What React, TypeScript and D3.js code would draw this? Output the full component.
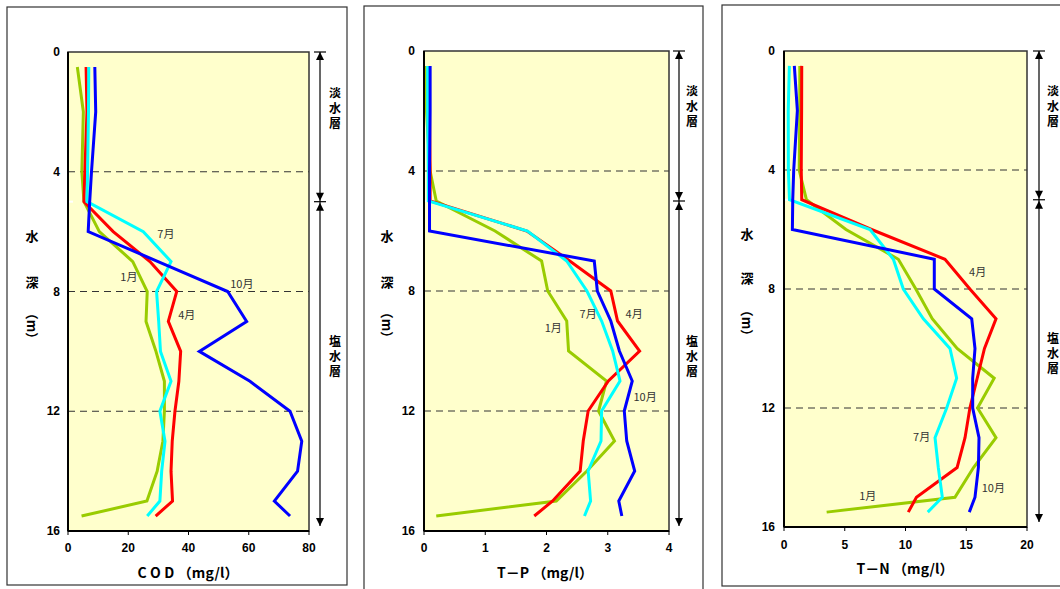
import React from "react";
import * as d3 from "d3";

// ---- data ----
const DEPTHS = [0.5, 2, 4, 5, 6, 7, 8, 9, 10, 11, 12, 13, 14, 15, 15.5];
const MONTHS = ["1月", "4月", "7月", "10月"];

const COD_JAN = [3.1, 5.1, 4.6, 5.3, 10.4, 21.5, 26.3, 25.9, 29.2, 32.0, 32.0, 31.5, 29.6, 26.2, 4.5];
const COD_APR = [6.0, 6.3, 5.6, 5.3, 15.0, 27.2, 36.1, 33.3, 37.4, 36.8, 35.5, 34.6, 34.2, 34.7, 29.1];
const COD_JUL = [6.9, 6.8, 6.5, 6.3, 25.0, 34.2, 29.4, 30.1, 30.7, 34.2, 30.5, 32.2, 31.1, 30.5, 26.3];
const COD_OCT = [8.9, 9.2, 7.8, 7.2, 6.7, 29.9, 53.0, 59.3, 43.6, 60.4, 73.7, 77.6, 76.2, 68.5, 73.7];

const TP_JAN = [0.02, 0.04, 0.1, 0.2, 1.16, 1.92, 2.02, 2.33, 2.36, 2.98, 2.85, 3.11, 2.66, 2.16, 0.2];
const TP_APR = [0.08, 0.09, 0.1, 0.1, 1.68, 2.38, 3.05, 3.16, 3.52, 3.01, 2.68, 2.6, 2.55, 2.1, 1.8];
const TP_JUL = [0.06, 0.06, 0.07, 0.07, 1.69, 2.33, 2.66, 2.9, 3.08, 3.2, 2.9, 2.89, 2.68, 2.72, 2.62];
const TP_OCT = [0.1, 0.1, 0.09, 0.09, 0.09, 2.78, 2.83, 3.05, 3.19, 3.4, 3.27, 3.31, 3.44, 3.18, 3.23];

const TN_JAN = [1.3, 1.3, 1.25, 1.85, 5.1, 9.41, 10.85, 12.2, 14.25, 17.3, 15.93, 17.45, 15.6, 14.07, 3.51];
const TN_APR = [1.46, 1.45, 1.42, 1.46, 7.2, 13.25, 15.3, 17.45, 16.5, 15.9, 15.3, 14.9, 14.25, 10.9, 10.23];
const TN_JUL = [0.44, 0.35, 0.36, 0.45, 7.08, 9.0, 9.82, 11.47, 13.66, 14.21, 13.39, 12.43, 12.7, 13.03, 11.83];
const TN_OCT = [0.85, 1.1, 0.8, 0.72, 0.69, 12.37, 12.37, 15.45, 15.72, 15.53, 15.53, 16.05, 16.0, 15.72, 15.25];

const Y_TICKS = [0, 4, 8, 12, 16];
const GRID_DEPTHS = [4, 8, 12];
const COD_TICKS = [0, 20, 40, 60, 80];
const TP_TICKS = [0, 1, 2, 3, 4];
const TN_TICKS = [0, 5, 10, 15, 20];
const BOUNDARY_DEPTH = 5;
const FRESH_LABEL = "淡水層";
const SALT_LABEL = "塩水層";

// month label anchors in data coordinates [value, depth] in MONTHS order
const COD_LABELS = [[20.2, 7.48], [39.4, 8.75], [32.5, 6.04], [57.7, 7.7]];
const TP_LABELS = [[2.11, 9.19], [3.43, 8.72], [2.68, 8.72], [3.61, 11.49]];
const TN_LABELS = [[6.89, 14.92], [15.94, 7.39], [11.33, 12.94], [17.23, 14.65]];

const COLORS = ["#99CC00", "#FF0000", "#00FFFF", "#0000FF"];

const JP = "'Noto Sans CJK JP', 'Noto Sans', sans-serif";
const LAT = "'Liberation Sans', Arial, sans-serif";

type PanelCfg = {
  series: number[][];
  labels: number[][];
  domain: [number, number];
  ticks: number[];
  title: string;
  titleW: number;
  left: number; right: number; top: number; bottom: number;
  frame: [number, number, number, number];
  yLabX: number;
  arrowX: number;
  textX: number;
  tickRight: number;
  xTickY: number;
  titleY: number;
  titleX: number;
  freshTop: number;
  saltTop: number;
  mid: number;
  suiY: number; shinY: number;
};

const PANELS: PanelCfg[] = [
  {
    series: [COD_JAN, COD_APR, COD_JUL, COD_OCT], labels: COD_LABELS,
    domain: [0, 80], ticks: COD_TICKS, title: "C O D （mg/l）", titleW: 101,
    left: 68, right: 309, top: 52, bottom: 531, frame: [7, 7, 347, 585],
    yLabX: 32, arrowX: 320, textX: 335, tickRight: 60, xTickY: 548, titleY: 572, titleX: 188,
    freshTop: 87, saltTop: 335, mid: 326, suiY: 235, shinY: 281,
  },
  {
    series: [TP_JAN, TP_APR, TP_JUL, TP_OCT], labels: TP_LABELS,
    domain: [0, 4], ticks: TP_TICKS, title: "T－P （mg/l）", titleW: 96,
    left: 424, right: 669, top: 51, bottom: 531, frame: [364, 6, 703, 600],
    yLabX: 387, arrowX: 679, textX: 692, tickRight: 415, xTickY: 548, titleY: 572, titleX: 545,
    freshTop: 85, saltTop: 335, mid: 325, suiY: 235, shinY: 281,
  },
  {
    series: [TN_JAN, TN_APR, TN_JUL, TN_OCT], labels: TN_LABELS,
    domain: [0, 20], ticks: TN_TICKS, title: "T－N （mg/l）", titleW: 97,
    left: 784, right: 1027, top: 51, bottom: 527, frame: [722, 5, 1080, 586],
    yLabX: 747, arrowX: 1039, textX: 1053, tickRight: 775, xTickY: 545, titleY: 568, titleX: 905,
    freshTop: 85, saltTop: 332, mid: 323, suiY: 233, shinY: 277,
  },
];

function Panel({ p }: { p: PanelCfg }) {
  const x = d3.scaleLinear().domain(p.domain).range([p.left, p.right]);
  const y = d3.scaleLinear().domain([0, 16]).range([p.top, p.bottom]);
  const line = d3
    .line<[number, number]>()
    .x((d) => x(d[0]))
    .y((d) => y(d[1]));
  const ax = p.arrowX;
  const yb = y(BOUNDARY_DEPTH);
  const y0 = y(0);
  const yEnd = y(16) - 5;
  const tri = (tipY: number, dir: number) =>
    `M${ax},${tipY} L${ax - 4},${tipY - dir * 8} L${ax + 4},${tipY - dir * 8} Z`;
  const [fx0, fy0, fx1, fy1] = p.frame;
  const vStyle: React.CSSProperties = { writingMode: "vertical-rl" as any, letterSpacing: "3px" };
  return (
    <g>
      <rect x={fx0} y={fy0} width={fx1 - fx0} height={fy1 - fy0} fill="#fff" stroke="#333" strokeWidth={1.2} />
      <rect x={p.left} y={p.top} width={p.right - p.left} height={p.bottom - p.top} fill="#FFFFCC" stroke="#333" strokeWidth={1.5} />
      {GRID_DEPTHS.map((g) => (
        <line key={g} x1={p.left} x2={p.right} y1={y(g)} y2={y(g)} stroke="#333" strokeWidth={1} strokeDasharray="7,5" />
      ))}
      <line x1={p.left} x2={p.left + 5} y1={yb} y2={yb} stroke="#fff" strokeWidth={2} />
      {p.series.map((s, i) => (
        <path
          key={i}
          d={line(DEPTHS.map((d, j) => [s[j], d] as [number, number])) || ""}
          fill="none"
          stroke={COLORS[i]}
          strokeWidth={3}
          strokeLinejoin="miter"
        />
      ))}
      <line x1={p.left} x2={p.left} y1={p.top} y2={p.bottom} stroke="#000" strokeWidth={2} />
      <line x1={p.left} x2={p.right} y1={p.bottom} y2={p.bottom} stroke="#000" strokeWidth={2} />
      {p.ticks.map((t) => (
        <g key={t}>
          <line x1={x(t)} x2={x(t)} y1={p.bottom} y2={p.bottom + 4} stroke="#000" strokeWidth={1} />
          <text x={x(t)} y={p.xTickY} textAnchor="middle" dominantBaseline="central" fontFamily={LAT} fontWeight="bold" fontSize={12} fill="#000">
            {t}
          </text>
        </g>
      ))}
      {Y_TICKS.map((t) => (
        <text key={t} x={p.tickRight} y={y(t)} textAnchor="end" dominantBaseline="central" fontFamily={LAT} fontWeight="bold" fontSize={12} fill="#000">
          {t}
        </text>
      ))}
      {p.labels.map((l, i) => (
        <text key={i} x={x(l[0])} y={y(l[1])} textAnchor="middle" dominantBaseline="central" fontFamily={JP} fontSize={11} fill="#333">
          {MONTHS[i]}
        </text>
      ))}
      <text x={p.titleX} y={p.titleY} textAnchor="middle" dominantBaseline="central" fontFamily={JP} fontWeight="bold" fontSize={14} fill="#000" textLength={p.titleW} lengthAdjust="spacing">
        {p.title}
      </text>
      {/* y-axis label */}
      <text x={p.yLabX} y={p.suiY} textAnchor="middle" dominantBaseline="central" fontFamily={JP} fontWeight="bold" fontSize={13} fill="#000">水</text>
      <text x={p.yLabX} y={p.shinY} textAnchor="middle" dominantBaseline="central" fontFamily={JP} fontWeight="bold" fontSize={13} fill="#000">深</text>
      <text transform={`translate(${p.yLabX},${p.mid}) rotate(90)`} textAnchor="middle" dominantBaseline="central" fontFamily={JP} fontWeight="bold" fontSize={13} fill="#000">（m）</text>
      {/* layer annotation */}
      <line x1={ax} x2={ax} y1={y0} y2={yEnd} stroke="#000" strokeWidth={1.2} />
      <line x1={ax - 6} x2={ax + 6} y1={y0} y2={y0} stroke="#000" strokeWidth={1.2} />
      <line x1={ax - 6} x2={ax + 6} y1={yb} y2={yb} stroke="#000" strokeWidth={1.2} />
      <path d={tri(y0, -1)} fill="#000" />
      <path d={tri(yb - 1, 1)} fill="#000" />
      <path d={tri(yb + 1, -1)} fill="#000" />
      <path d={tri(yEnd, 1)} fill="#000" />
      <text x={p.textX} y={p.freshTop} style={vStyle} fontFamily={JP} fontWeight="bold" fontSize={12} fill="#000">{FRESH_LABEL}</text>
      <text x={p.textX} y={p.saltTop} style={vStyle} fontFamily={JP} fontWeight="bold" fontSize={12} fill="#000">{SALT_LABEL}</text>
    </g>
  );
}

export default function App() {
  return (
    <svg width={1060} height={589} style={{ position: "absolute", left: 0, top: 0, background: "#fff" }}>
      {PANELS.map((p, i) => (
        <Panel key={i} p={p} />
      ))}
    </svg>
  );
}
